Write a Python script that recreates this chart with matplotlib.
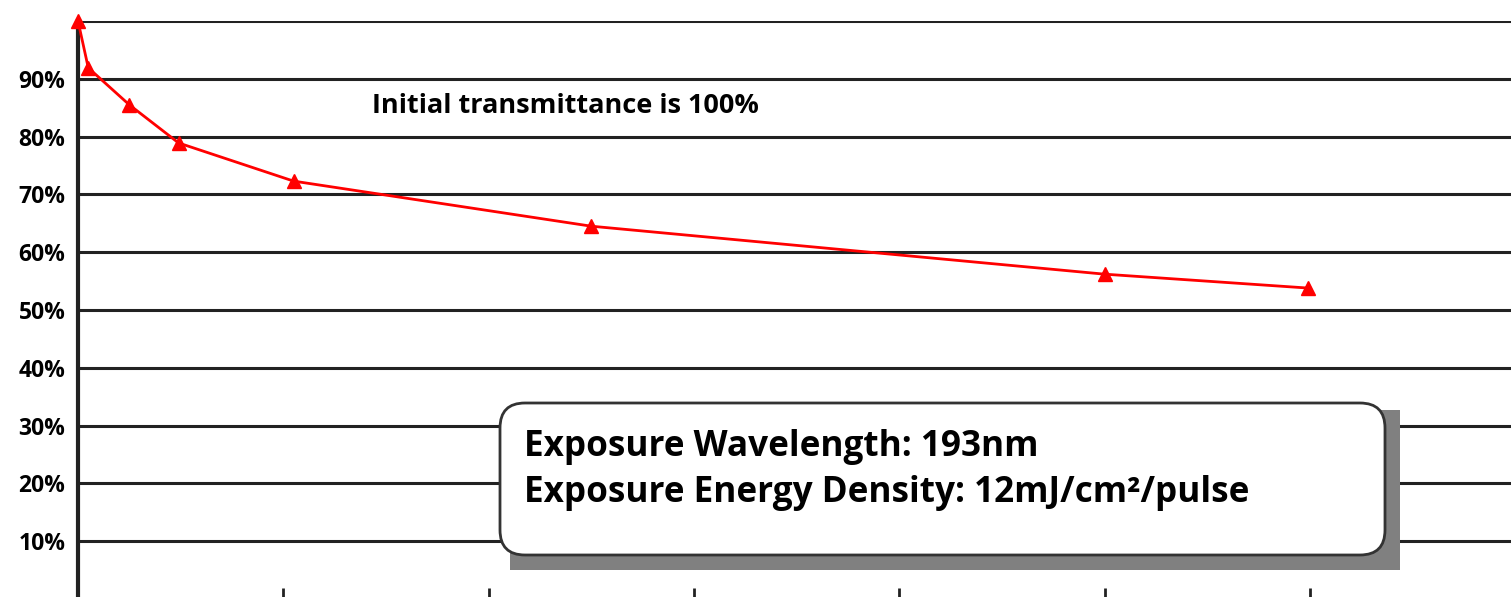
import matplotlib.pyplot as plt
from matplotlib.patches import FancyBboxPatch, Rectangle

# datos
exposure = [0, 0.05, 0.25, 0.49, 1.05, 2.5, 5.0, 5.99]
transmittance = [100, 91.9, 85.5, 78.9, 72.3, 64.5, 56.2, 53.8]
y_ticks = [10, 20, 30, 40, 50, 60, 70, 80, 90]
y_labels = ["10%", "20%", "30%", "40%", "50%", "60%", "70%", "80%", "90%"]
x_ticks = [0, 1, 2, 3, 4, 5, 6]

plt.rcParams["font.family"] = ["Open Sans", "DejaVu Sans"]
plt.rcParams["font.weight"] = "bold"

fig = plt.figure(figsize=(15.11, 5.97), dpi=100)
ax = fig.add_axes([78 / 1511, -2 / 597, 1 - 78 / 1511, 578 / 597])

for y in y_ticks + [100]:
    ax.axhline(y, color="#222222", linewidth=2.2, zorder=1)

ax.plot(exposure, transmittance, color="red", linewidth=2, marker="^",
        markersize=10, clip_on=False, zorder=3)

ax.set_xlim(0, (1511 - 78) / 205.3)
ax.set_ylim(0, 100)
ax.set_yticks(y_ticks)
ax.set_yticklabels(y_labels, fontsize=16.5, fontweight="bold")
ax.tick_params(axis="y", length=0, pad=9)
ax.set_xticks(x_ticks)
ax.set_xticklabels([])
ax.tick_params(axis="x", direction="in", length=8, width=2, color="#222222")

for s in ["top", "right", "bottom"]:
    ax.spines[s].set_visible(False)
ax.spines["left"].set_linewidth(3)
ax.spines["left"].set_color("#222222")

fig.text(372 / 1511, (597 - 106) / 597, "Initial transmittance is 100%",
         fontsize=19.5, fontweight="bold", va="center", ha="left")

# caja con sombra
shadow = Rectangle((5.10, 0.27), 8.90, 1.60, transform=fig.dpi_scale_trans,
                   facecolor="#808080", edgecolor="none", zorder=5)
fig.add_artist(shadow)
box = FancyBboxPatch((5.00, 0.42), 8.85, 1.52, boxstyle="round,pad=0,rounding_size=0.25",
                     transform=fig.dpi_scale_trans, facecolor="white",
                     edgecolor="#333333", linewidth=2, zorder=6)
fig.add_artist(box)
fig.text(5.24 / 15.11, 1.50 / 5.97, "Exposure Wavelength: 193nm", fontsize=25.3,
         fontweight="bold", va="center", ha="left", zorder=7)
fig.text(5.24 / 15.11, 1.04 / 5.97, "Exposure Energy Density: 12mJ/cm\u00b2/pulse", fontsize=25.3,
         fontweight="bold", va="center", ha="left", zorder=7)

plt.savefig("out.png", dpi=100)
